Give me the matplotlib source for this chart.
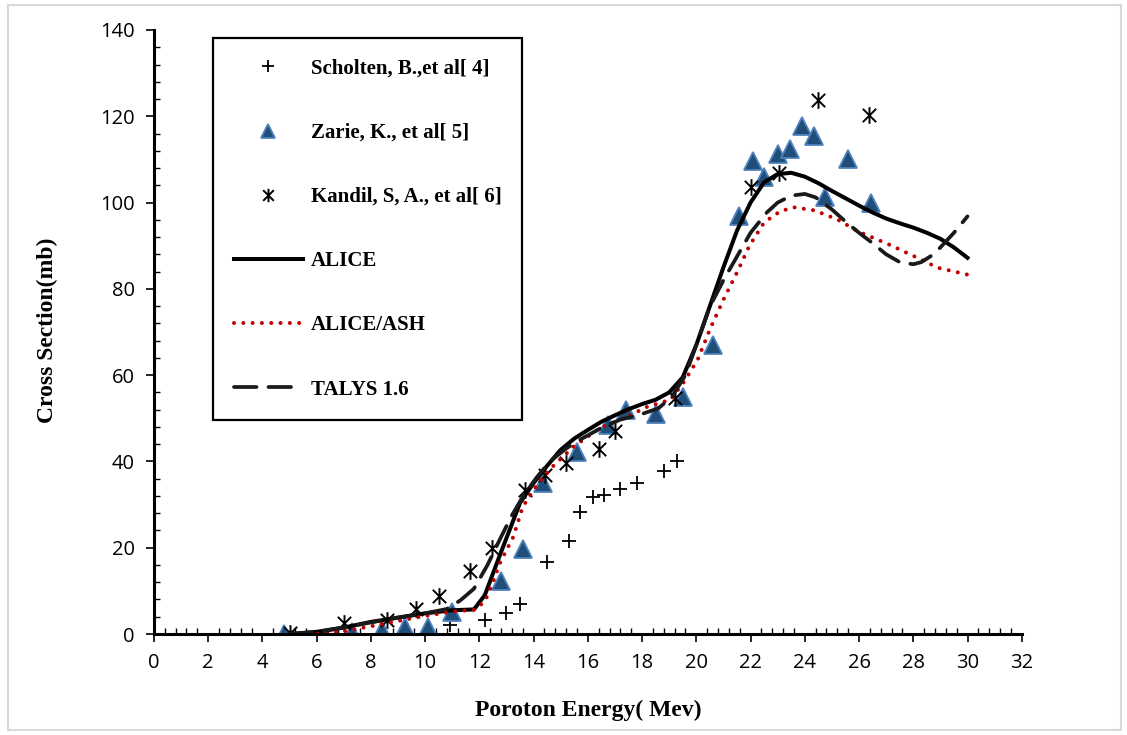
import matplotlib
matplotlib.use("Agg")
import matplotlib.pyplot as plt
from matplotlib.path import Path
from matplotlib.patches import Rectangle
from matplotlib.ticker import MultipleLocator

# experimental data
scholten_x = [10.9, 12.2, 13.0, 13.5, 14.5, 15.3, 15.7, 16.2, 16.6, 17.2, 17.8, 18.8, 19.3]
scholten_y = [2.1, 3.2, 4.9, 7.0, 16.7, 21.5, 28.2, 31.8, 32.2, 33.7, 35.0, 37.8, 40.1]

zarie_x = [4.8, 7.3, 8.4, 9.25, 10.1, 11.0, 12.8, 13.6, 14.35, 15.6, 16.75, 17.4, 18.5,
           19.5, 20.6, 21.57, 22.1, 22.5, 23.0, 23.45, 23.9, 24.35, 24.75, 25.6, 26.45]
zarie_y = [0.0, 0.5, 1.0, 1.6, 1.6, 5.0, 12.2, 19.7, 35.0, 42.1, 48.5, 52.0, 51.0,
           54.9, 67.1, 96.8, 109.6, 105.9, 111.2, 112.4, 117.7, 115.4, 101.2, 110.0, 99.8]

kandil_x = [5.0, 7.0, 8.6, 9.65, 10.5, 11.65, 12.47, 13.7, 14.43, 15.2, 16.4, 17.0,
            19.2, 22.0, 23.05, 24.5, 26.35]
kandil_y = [0.2, 2.5, 3.3, 5.7, 8.8, 14.6, 20.0, 33.4, 36.9, 39.6, 42.9, 47.0,
            54.8, 103.7, 106.8, 123.8, 120.4]

# model calculations
alice_x = [5, 6, 7, 8, 9, 10, 11, 11.8, 12.2, 12.5, 12.8, 13.2, 13.5, 14.0, 14.5, 15.0,
           15.5, 16.0, 16.5, 17.0, 17.5, 18.0, 18.5, 19.0, 19.5, 20.0, 20.5, 21.0, 21.5,
           22.0, 22.5, 23.0, 23.5, 24.0, 24.5, 25.0, 25.5, 26.0, 26.5, 27.0, 27.5, 28.0,
           28.5, 29.0, 29.5, 30.0]
alice_y = [0.0, 0.5, 1.5, 2.8, 3.8, 4.8, 5.5, 5.7, 9.0, 14.0, 19.0, 25.5, 30.4, 35.0,
           39.0, 42.7, 45.3, 47.3, 49.2, 50.7, 52.1, 53.3, 54.3, 56.0, 59.5, 67.0, 76.0,
           85.0, 93.5, 100.0, 104.7, 106.6, 106.9, 106.0, 104.5, 102.7, 101.0, 99.3, 97.7,
           96.3, 95.2, 94.2, 93.0, 91.6, 89.6, 87.2]

ash_x = [5, 6, 7, 8, 9, 10, 11, 11.8, 12.2, 12.5, 12.76, 13.25, 13.6, 14.17, 14.7, 15.47,
         16.46, 17.46, 18.2, 19.05, 19.55, 20.05, 20.5, 21.0, 21.5, 21.95, 22.5, 23.1,
         23.6, 24.35, 25.2, 25.97, 27.1, 28.05, 28.9, 30.0]
ash_y = [0.0, 0.1, 0.6, 1.8, 3.0, 4.2, 5.2, 5.6, 7.5, 12.0, 16.5, 22.5, 29.5, 35.0, 38.8,
         43.4, 47.8, 50.4, 52.7, 54.3, 58.5, 63.6, 70.6, 77.5, 83.8, 89.9, 95.4, 98.0,
         98.9, 98.2, 96.1, 93.3, 90.3, 87.5, 84.9, 83.3]

talys_x = [5, 6, 7, 8, 9, 10, 10.8, 11.3, 11.8, 12.3, 12.8, 13.2, 13.6, 14.1, 14.6, 15.2,
           15.7, 16.5, 17.2, 17.9, 18.6, 19.1, 19.6, 20.0, 20.5, 21.0, 21.5, 22.0, 22.6,
           23.0, 23.5, 24.0, 24.4, 25.0, 25.5, 26.0, 26.5, 27.0, 27.5, 28.0, 28.3, 28.7,
           29.0, 29.5, 30.0]
talys_y = [0.0, 0.5, 1.5, 2.7, 3.8, 4.8, 5.8, 7.8, 10.5, 16.0, 22.5, 27.5, 31.8, 36.2,
           40.0, 43.0, 45.0, 47.8, 49.7, 50.8, 52.3, 55.0, 60.0, 67.0, 75.9, 82.0, 87.5,
           93.0, 97.7, 100.0, 101.6, 102.0, 101.2, 98.4, 95.6, 93.0, 90.6, 88.0, 86.2,
           85.7, 86.2, 87.8, 89.6, 93.0, 96.8]

labels = ["Scholten, B.,et al[ 4]", "Zarie, K., et al[ 5]", "Kandil, S, A., et al[ 6]",
          "ALICE", "ALICE/ASH", "TALYS 1.6"]

# excel style star: vertical bar plus an x
star = Path([(0, -1), (0, 1), (-0.8, -0.8), (0.8, 0.8), (-0.8, 0.8), (0.8, -0.8)],
            [Path.MOVETO, Path.LINETO, Path.MOVETO, Path.LINETO, Path.MOVETO, Path.LINETO])

serif = "Liberation Serif"
fig = plt.figure(figsize=(11.27, 7.35), dpi=100)
ax = fig.add_axes([0.1366, 0.1374, 0.770, 0.8218])

# light grey frame round the whole picture
fig.patches.append(Rectangle((0.007, 0.007), 0.988, 0.986, transform=fig.transFigure,
                             fill=False, edgecolor="#d9d9d9", linewidth=1.5))

ax.plot(scholten_x, scholten_y, linestyle="none", marker="+", markersize=10,
        markeredgewidth=1.3, color="black", label=labels[0])
ax.plot(zarie_x, zarie_y, linestyle="none", marker="^", markersize=13,
        markerfacecolor="#1f4e79", markeredgecolor="#4f81bd", markeredgewidth=1.3,
        label=labels[1])
ax.plot(kandil_x, kandil_y, linestyle="none", marker=star, markersize=12,
        markerfacecolor="none", markeredgecolor="black", markeredgewidth=1.4,
        label=labels[2])
ax.plot(alice_x, alice_y, color="black", linewidth=2.9, solid_joinstyle="round",
        label=labels[3])
ax.plot(ash_x, ash_y, color="#c00000", linewidth=2.9, linestyle=(0, (0.01, 2.3)),
        dash_capstyle="round", label=labels[4])
ax.plot(talys_x, talys_y, color="#1a1a1a", linewidth=2.7, linestyle=(0, (6, 3.2)),
        dash_capstyle="round", label=labels[5])

ax.set_xlim(0, 32)
ax.set_ylim(0, 140)
ax.xaxis.set_major_locator(MultipleLocator(2))
ax.xaxis.set_minor_locator(MultipleLocator(0.4))
ax.yaxis.set_major_locator(MultipleLocator(20))
ax.yaxis.set_minor_locator(MultipleLocator(4))

for side in ["top", "right"]:
    ax.spines[side].set_visible(False)
for side in ["left", "bottom"]:
    ax.spines[side].set_linewidth(2.2)
ax.tick_params(which="major", direction="out", length=6, width=1.2, pad=8,
               labelsize=14.5)
ax.tick_params(which="minor", direction="in", length=4, width=1.0)
for t in ax.get_xticklabels() + ax.get_yticklabels():
    t.set_fontfamily("Open Sans")

ax.set_xlabel("Poroton Energy( Mev)", fontfamily=serif, fontweight="bold", fontsize=17)
ax.set_ylabel("Cross Section(mb)", fontfamily=serif, fontweight="bold", fontsize=17)
ax.xaxis.set_label_coords(0.5, -0.109)
ax.yaxis.set_label_coords(-0.11, 0.503)

leg = ax.legend(loc="upper left", bbox_to_anchor=(0.068, 0.987), borderaxespad=0,
                frameon=True, fancybox=False, edgecolor="black", framealpha=1,
                prop={"family": serif, "weight": "bold", "size": 15},
                markerscale=0.8, handlelength=3.3, handletextpad=0.4,
                labelspacing=2.12, borderpad=1.0)
leg.get_frame().set_linewidth(1.6)

fig.savefig("out.png", dpi=100)
